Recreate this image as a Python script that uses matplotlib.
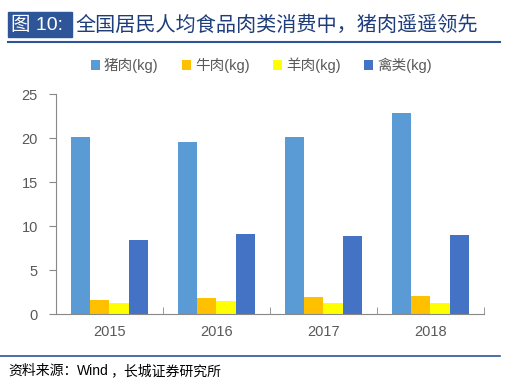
import numpy as np
import matplotlib.pyplot as plt
from matplotlib.patches import Rectangle

plt.rcParams['font.family'] = ['Liberation Sans', 'Noto Sans CJK SC', 'DejaVu Sans']

years = ['2015', '2016', '2017', '2018']
pork = [20.1, 19.6, 20.1, 22.8]
beef = [1.6, 1.8, 1.9, 2.0]
mutton = [1.2, 1.5, 1.3, 1.3]
poultry = [8.4, 9.1, 8.9, 9.0]

series = [
    ('猪肉(kg)', pork, '#5B9BD5'),
    ('牛肉(kg)', beef, '#FFC000'),
    ('羊肉(kg)', mutton, '#FFFF00'),
    ('禽类(kg)', poultry, '#4472C4'),
]

fig = plt.figure(figsize=(5.1, 3.84), dpi=100)
ax = fig.add_axes([56 / 510, 1 - 314 / 384, 428 / 510, 220 / 384])

x = np.arange(len(years))
w = 0.178
for i, (name, vals, color) in enumerate(series):
    ax.bar(x + (i - 1.5) * w, vals, width=w, color=color, label=name)

ax.set_xlim(-0.5, 3.5)
ax.set_ylim(0, 25)
ax.set_yticks([0, 5, 10, 15, 20, 25])
ax.set_xticks(x)
ax.set_xticklabels(years)
ax.set_xticks(np.arange(-0.5, 4, 1), minor=True)
ax.tick_params(axis='x', which='major', length=0, pad=8, labelsize=10.5, colors='#595959')
ax.tick_params(axis='x', which='minor', length=5, direction='in', color='#888888')
ax.tick_params(axis='y', length=5, direction='out', color='#888888', labelsize=10.5,
               labelcolor='#595959', pad=8)
for s in ['top', 'right']:
    ax.spines[s].set_visible(False)
ax.spines['left'].set_color('#888888')
ax.spines['bottom'].set_color('#888888')

leg = ax.legend(loc='center', bbox_to_anchor=(0.48, 1.13), ncol=4, frameon=False,
                fontsize=10.5, handlelength=0.6, handleheight=0.6, handletextpad=0.3,
                columnspacing=1.6)
for t in leg.get_texts():
    t.set_color('#595959')

# title band
fig.patches.append(Rectangle((8 / 510, 1 - 37 / 384), 64 / 510, 25 / 384,
                             transform=fig.transFigure, color='#2E5597'))
fig.text(11 / 510, 1 - 25 / 384, '图 10:', color='white', fontsize=14, va='center')
fig.text(75 / 510, 1 - 25 / 384, '全国居民人均食品肉类消费中，猪肉遥遥领先',
         color='#1F3D7A', fontsize=14.5, va='center')
fig.add_artist(plt.Line2D([8 / 510, 500 / 510], [1 - 42 / 384] * 2, color='#2E5597', lw=1.5))
fig.add_artist(plt.Line2D([0, 500 / 510], [1 - 356 / 384] * 2, color='#2E5597', lw=1.2))

# source line, pieces chained so they never overlap
t1 = fig.text(8 / 510, 1 - 371 / 384, '资料来源：', fontsize=10, style='italic',
              va='center', color='#000000')
t2 = ax.annotate('Wind', xy=(1, 0.5), xycoords=t1, va='center', ha='left',
                 fontsize=10, color='#000000', annotation_clip=False)
ax.annotate('，长城证券研究所', xy=(1, 0.5), xycoords=t2, xytext=(1, 0),
            textcoords='offset points', va='center', ha='left', fontsize=10,
            style='italic', color='#000000', annotation_clip=False)

fig.savefig('out.png', dpi=100)
